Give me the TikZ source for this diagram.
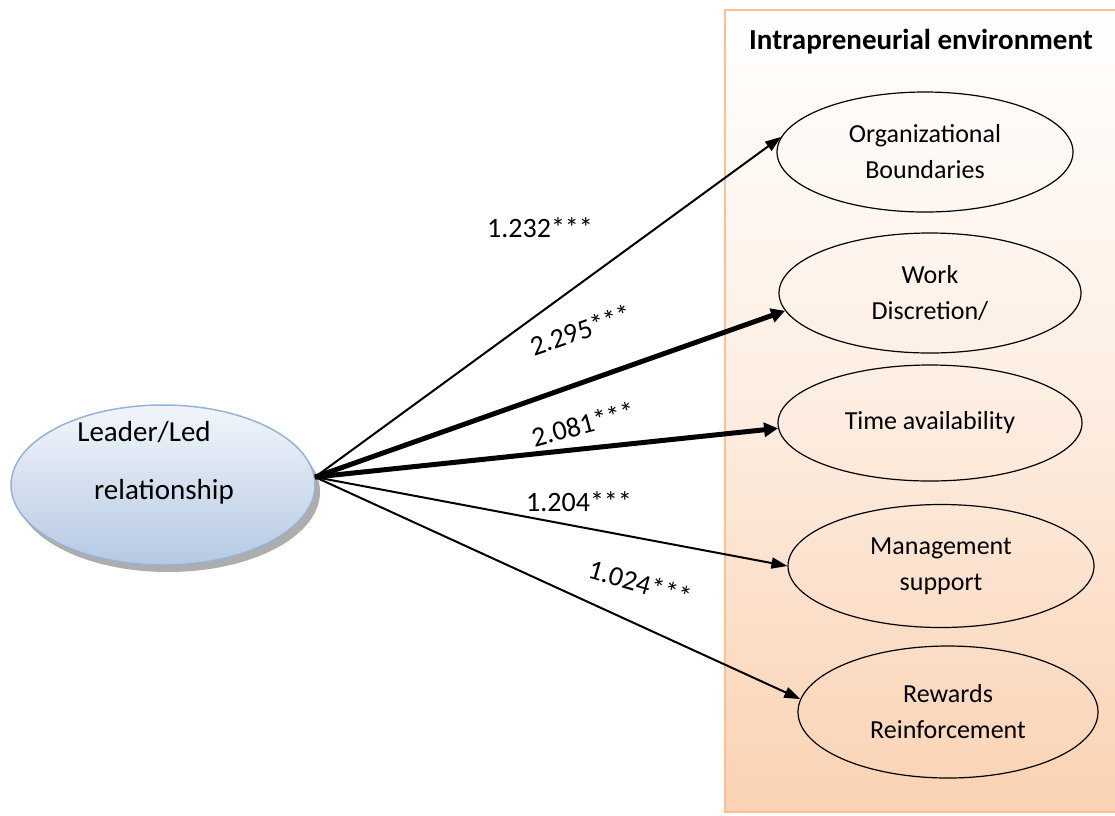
\documentclass[tikz,border=0pt]{standalone}
\usepackage{fontspec}
\setmainfont{Carlito}
\usetikzlibrary{arrows.meta,shapes.geometric}
\definecolor{boxborder}{HTML}{F9C193}
\definecolor{boxbottom}{HTML}{FAD2B3}
\definecolor{blueedge}{HTML}{95B3D7}
\definecolor{bluetop}{HTML}{F2F6FB}
\definecolor{bluebot}{HTML}{B5C9E3}
\tikzset{
  oval/.style={ellipse, draw=black, line width=1.2pt, inner sep=0pt, align=center,
    font=\fontsize{26}{36}\selectfont},
  thinarrow/.style={line width=2pt, -{Triangle[length=16pt,width=11pt]}},
  thickarrow/.style={line width=5pt, -{Triangle[length=14pt,width=14pt]}},
  coef/.style={font=\fontsize{28}{32}\selectfont, inner sep=0pt},
  lbl/.style={font=\fontsize{29}{33}\selectfont, inner sep=0pt},
}
\begin{document}
\begin{tikzpicture}[x=1pt,y=-1pt]
\useasboundingbox (0,0) rectangle (1115,815);
% environment box
\shade[top color=white, bottom color=boxbottom, middle color=white!60!boxbottom] (725,10) rectangle (1118,812);
\draw[boxborder, line width=2.5pt] (1118,10) -- (725,10) -- (725,812) -- (1118,812);
\node[font=\fontsize{29}{33}\selectfont\bfseries, inner sep=0pt] (title) at (921,42) {Intrapreneurial environment};
% left ellipse with shadow
\fill[black!40, opacity=0.8] (168,492) ellipse [x radius=152, y radius=80];
\node[ellipse, draw=blueedge, line width=1.5pt, top color=bluetop, bottom color=bluebot,
  minimum width=304pt, minimum height=160pt, inner sep=0pt] (L) at (163,485) {};
\node[lbl] (l1) at (144,432) {Leader/Led};
\node[lbl] (l2) at (164,492) {relationship};
% right ellipses
\node[oval, minimum width=296pt, minimum height=120pt] (o1) at (925,152) {Organizational\\Boundaries};
\node[oval, minimum width=302pt, minimum height=120pt] (o2) at (930,293) {Work\\Discretion/};
\node[oval, minimum width=304pt, minimum height=116pt] (o3) at (930,423) {Time availability};
\node[oval, minimum width=306pt, minimum height=123pt] (o4) at (941,566) {Management\\support};
\node[oval, minimum width=300pt, minimum height=132pt] (o5) at (948,712) {Rewards\\Reinforcement};
% arrows
\draw[thinarrow] (L.3) -- (o1.174);
\draw[thickarrow] (L.3) -- (o2.187);
\draw[thickarrow] (L.3) -- (o3.182);
\draw[thinarrow] (L.3) -- (o4.180);
\draw[thinarrow] (L.3) -- (o5.175);
% coefficients
\node[coef] (c1) at (540,228) {1.232***};
\node[coef, rotate=19] (c2) at (581,330) {2.295***};
\node[coef, rotate=15] (c3) at (583,424) {2.081***};
\node[coef] (c4) at (579,502) {1.204***};
\node[coef, rotate=-16] (c5) at (640,583) {1.024***};
\end{tikzpicture}
\end{document}
